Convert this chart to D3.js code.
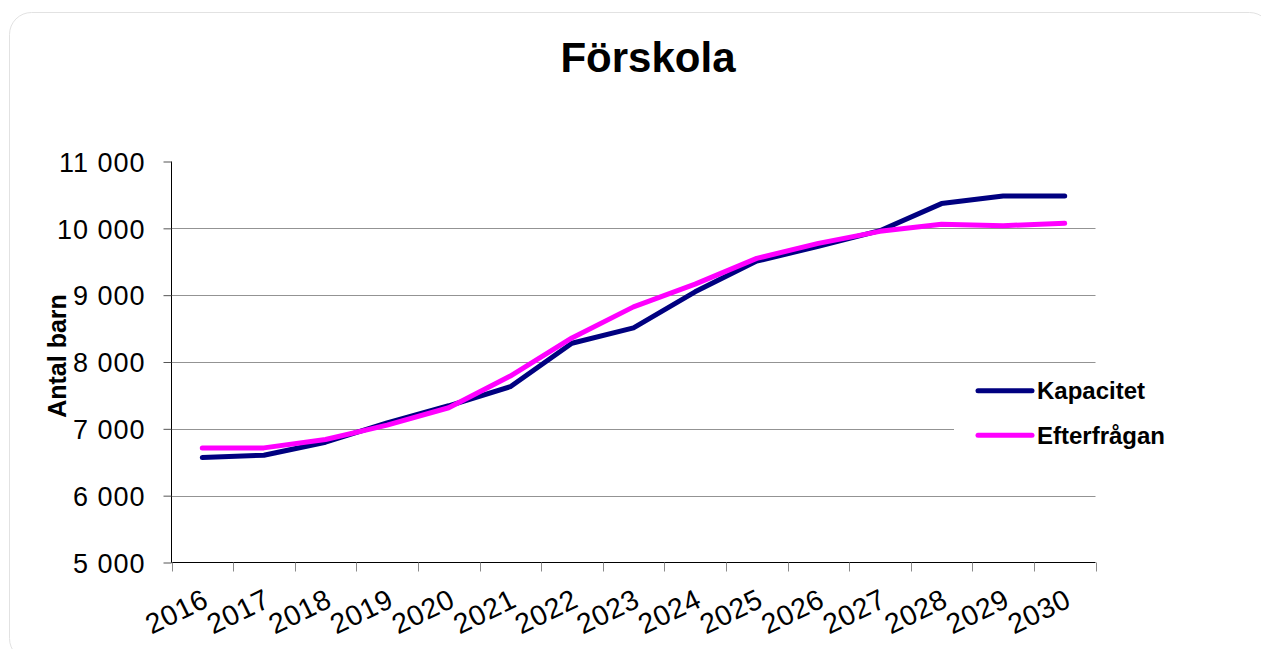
<!DOCTYPE html>
<html>
<head>
<meta charset="utf-8">
<script src="https://cdn.jsdelivr.net/npm/d3@7"></script>
<style>
  body { margin: 0; background: #fff; }
  svg { display: block; font-family: "Liberation Sans", Arial, sans-serif; }
</style>
</head>
<body>
<svg width="1261" height="649"></svg>
<script>
(() => {

    // years on the x axis
    const years = ['2016', '2017', '2018', '2019', '2020', '2021', '2022', '2023',
            '2024', '2025', '2026', '2027', '2028', '2029', '2030'];

    // Kapacitet (capacity)
    const kapacitet = [6570, 6605, 6800, 7090, 7345, 7630, 8280, 8510,
            9050, 9510, 9730, 9965, 10370, 10485, 10485];

    // Efterfrågan (demand)
    const efterfragan = [6715, 6715, 6840, 7055, 7315, 7790, 8360, 8825,
            9165, 9550, 9775, 9955, 10060, 10040, 10075];

    const yTicks = [5000, 6000, 7000, 8000, 9000, 10000, 11000];

    const series = [
        {name: 'Kapacitet', values: kapacitet, color: '#000080'},
        {name: 'Efterfrågan', values: efterfragan, color: '#ff00ff'}
    ];

    const svg = d3.select('svg');

    // card behind the chart
    svg.append('rect')
            .attr('x', 9.5)
            .attr('y', 12.5)
            .attr('width', 1262)
            .attr('height', 648)
            .attr('rx', 22)
            .attr('fill', '#fff')
            .attr('stroke', '#e2e2e2');

    const x = d3.scaleBand()
            .domain(years)
            .range([171.5, 1095.5])
            .padding(0);

    const y = d3.scaleLinear()
            .domain([5000, 11000])
            .range([562.5, 161.5]);

    const cx = d => x(d) + x.bandwidth() / 2;

    const fmt = d3.formatLocale({
        decimal: ',', thousands: ' ', grouping: [3], currency: ['', '']
    }).format(',d');

    // gridlines
    svg.append('g')
            .selectAll('line')
            .data(yTicks.filter(d => d > 5000 && d < 11000))
            .enter().append('line')
            .attr('x1', 171.5)
            .attr('x2', 1095.5)
            .attr('y1', d => Math.round(y(d)) + 0.5)
            .attr('y2', d => Math.round(y(d)) + 0.5)
            .attr('stroke', '#939393')
            .attr('stroke-width', 1);

    // y axis
    const yAxis = svg.append('g')
            .attr('transform', 'translate(171.5,0)')
            .call(d3.axisLeft(y).tickValues(yTicks).tickFormat(fmt).tickSize(8).tickPadding(18));
    yAxis.select('.domain').attr('stroke', '#000').attr('d', 'M0,161.5V562.5');
    yAxis.selectAll('.tick line').attr('stroke', '#555');
    yAxis.selectAll('.tick text')
            .attr('font-size', 27)
            .attr('letter-spacing', 1)
            .attr('font-family', '"Liberation Sans", Arial, sans-serif')
            .attr('fill', '#000')
            .attr('dy', '0.36em');

    // x axis
    const xAxis = svg.append('g')
            .attr('transform', 'translate(0,562.5)');
    xAxis.append('line')
            .attr('x1', 171.5).attr('x2', 1095.5)
            .attr('stroke', '#000');
    xAxis.selectAll('.xt')
            .data(years.concat(['end']))
            .enter().append('line')
            .attr('class', 'xt')
            .attr('x1', (d, i) => Math.round(171.5 + i * x.step()) + 0.5)
            .attr('x2', (d, i) => Math.round(171.5 + i * x.step()) + 0.5)
            .attr('y1', 0)
            .attr('y2', 9)
            .attr('stroke', '#8a8a8a');
    xAxis.selectAll('text')
            .data(years)
            .enter().append('text')
            .attr('transform', d => `translate(${cx(d) - 1},25) rotate(-26)`)
            .attr('text-anchor', 'end')
            .attr('dy', '0.72em')
            .attr('font-size', 28.5)
            .attr('letter-spacing', 0.5)
            .text(d => d);

    // legend box covers the gridline
    svg.append('rect')
            .attr('x', 954)
            .attr('y', 370)
            .attr('width', 240)
            .attr('height', 88)
            .attr('fill', '#fff');

    // lines
    const line = d3.line()
            .x((d, i) => cx(years[i]))
            .y(d => y(d));

    svg.append('g')
            .selectAll('path')
            .data(series)
            .enter().append('path')
            .attr('d', d => line(d.values))
            .attr('fill', 'none')
            .attr('stroke', d => d.color)
            .attr('stroke-width', 5)
            .attr('stroke-linejoin', 'round')
            .attr('stroke-linecap', 'round');

    // legend
    const legend = svg.append('g')
            .selectAll('g')
            .data(series)
            .enter().append('g')
            .attr('transform', (d, i) => `translate(978,${390.7 + i * 44.6})`);
    legend.append('line')
            .attr('x1', 0).attr('x2', 54)
            .attr('stroke', d => d.color)
            .attr('stroke-width', 5)
            .attr('stroke-linecap', 'round');
    legend.append('text')
            .attr('x', 59)
            .attr('y', 8.7)
            .attr('font-size', 24)
            .attr('font-weight', 'bold')
            .text(d => d.name);

    // title
    svg.append('text')
            .attr('x', 648)
            .attr('y', 72)
            .attr('text-anchor', 'middle')
            .attr('font-size', 42)
            .attr('font-weight', 'bold')
            .text('Förskola');

    // y axis title
    svg.append('text')
            .attr('transform', 'translate(66,356) rotate(-90)')
            .attr('text-anchor', 'middle')
            .attr('font-size', 25)
            .attr('font-weight', 'bold')
            .text('Antal barn');

})();
</script>
</body>
</html>
